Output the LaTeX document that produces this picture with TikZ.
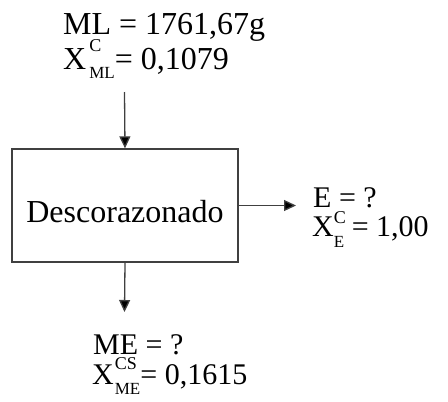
\documentclass[tikz,border=0pt]{standalone}
\usepackage{fontspec}
\setmainfont{Liberation Serif}
\usetikzlibrary{arrows.meta}

% letter with a stacked superscript and subscript, all upright:
% #1 letter, #2 gap, #3 raise, #4 sup, #5 drop, #6 sub
\newcommand\stackidx[6]{#1\kern#2\rlap{\raisebox{#3}{\fontsize{18}{18}\selectfont #4}}\raisebox{-#5}{\fontsize{17}{17}\selectfont #6}}

\begin{document}
\begin{tikzpicture}[x=1pt,y=-1pt,
  lbl/.style={anchor=base west,inner sep=0pt,font=\fontsize{32}{32}\selectfont},
  lblsm/.style={lbl,font=\fontsize{30}{30}\selectfont},
  procbox/.style={draw=black!75,line width=1.3pt,minimum width=226pt,minimum height=113pt,
    inner sep=0pt,text height=33pt,text depth=0pt,font=\fontsize{32}{32}\selectfont},
  flow/.style={draw=black!75,line width=1.3pt,-{Triangle[width=11pt,length=12pt,fill=black]}}]
  \useasboundingbox (0,0) rectangle (448,402);

  % process block
  \node[procbox] (box) at (125,205.5) {Descorazonado};

  % stream entering from the top
  \node[lbl] (mlA) at (63,34) {ML = 1761,67g};
  \node[lbl] (mlB) at (63,69) {\stackidx{X}{3pt}{18pt}{C}{9pt}{ML}= 0,1079};
  \coordinate (inTop) at (124.5,92);
  \draw[flow] (inTop) -- (box.north);

  % stream leaving to the right
  \coordinate (outRight) at (296,205.5);
  \draw[flow] (box.east) -- (outRight);
  \node[lblsm] (eA) at (313,207) {E = ?};
  \node[lblsm] (eB) at (312,236) {\stackidx{X}{0pt}{13pt}{C}{11pt}{E} = 1,00};

  % stream leaving from the bottom
  \coordinate (outBot) at (124.5,312);
  \draw[flow] (box.south) -- (outBot);
  \node[lblsm] (meA) at (93,354) {ME = ?};
  \node[lblsm] (meB) at (92,384) {\stackidx{X}{1pt}{15pt}{CS}{10pt}{ME}= 0,1615};
\end{tikzpicture}
\end{document}
